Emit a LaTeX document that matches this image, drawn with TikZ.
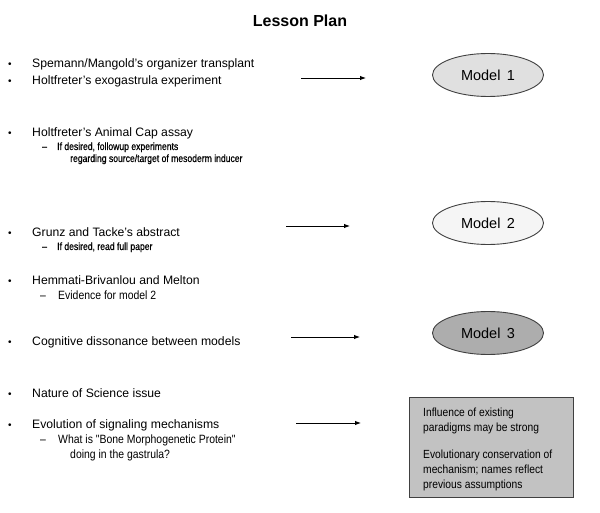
\documentclass[tikz,border=0pt]{standalone}
\usepackage{fontspec}
\setmainfont{Liberation Sans}
\newfontfamily\narrowfont[FakeStretch=0.87]{Liberation Sans}
\newfontfamily\smallfont[FakeStretch=0.82,FakeBold=0.6]{Liberation Sans}
\usetikzlibrary{arrows.meta,shapes.geometric}
\begin{document}
\begin{tikzpicture}[x=1pt,y=-1pt,
  txt/.style={anchor=base west,inner sep=0pt,font=\fontsize{12.2}{14}\selectfont},
  bul/.style={anchor=base west,inner sep=0pt,font=\fontsize{10}{12}\selectfont},
  sub/.style={anchor=base west,inner sep=0pt,font=\smallfont\fontsize{10.5}{12}\selectfont},
  subb/.style={anchor=base west,inner sep=0pt,font=\narrowfont\fontsize{12}{14}\selectfont},
  arr/.style={-{Latex[length=6pt,width=4.5pt]},line width=0.9pt},
  model/.style={ellipse,draw=black!75,line width=0.9pt,minimum width=111pt,minimum height=43pt,inner sep=0pt,font=\fontsize{14.5}{16}\selectfont},
  boxtxt/.style={anchor=base west,inner sep=0pt,font=\narrowfont\fontsize{11.8}{13}\selectfont}
]
\useasboundingbox (0,0) rectangle (600,513);
\node[anchor=base,inner sep=0pt,font=\bfseries\fontsize{16}{18}\selectfont] (title) at (300,27) {Lesson Plan};

\node[bul] (b1) at (8,68) {•};
\node[txt] (t1) at (32,68) {Spemann/Mangold's organizer transplant};
\node[bul] (b2) at (8,85) {•};
\node[txt] (t2) at (32,85) {Holtfreter's exogastrula experiment};
\node[bul] (b3) at (8,137) {•};
\node[txt] (t3) at (32,137) {Holtfreter's Animal Cap assay};
\node[sub] (d3) at (42,150) {–};
\node[sub] (s3a) at (57,150) {If desired, followup experiments};
\node[sub] (s3b) at (70,162) {regarding source/target of mesoderm inducer};

\node[bul] (b4) at (8,237) {•};
\node[txt] (t4) at (32,237) {Grunz and Tacke's abstract};
\node[sub] (d4) at (42,250) {–};
\node[sub] (s4) at (57,250) {If desired, read full paper};
\node[bul] (b5) at (8,284) {•};
\node[txt] (t5) at (32,284) {Hemmati-Brivanlou and Melton};
\node[subb] (d5) at (40,299) {–};
\node[subb] (s5) at (58,299) {Evidence for model 2};
\node[bul] (b6) at (8,345) {•};
\node[txt] (t6) at (32,345) {Cognitive dissonance between models};

\node[bul] (b7) at (8,397) {•};
\node[txt] (t7) at (32,397) {Nature of Science issue};
\node[bul] (b8) at (8,428) {•};
\node[txt] (t8) at (32,428) {Evolution of signaling mechanisms};
\node[subb] (d8) at (40,443) {–};
\node[subb] (s8a) at (58,443) {What is "Bone Morphogenetic Protein"};
\node[subb] (s8b) at (70,458) {doing in the gastrula?};

\node[model,fill=black!12] (m1) at (488,75) {Model\, 1};
\node[model,fill=black!4] (m2) at (488,223) {Model\, 2};
\node[model,fill=black!32] (m3) at (488,333) {Model\, 3};
\node[draw=black!75,line width=0.9pt,fill=black!24,minimum width=164pt,minimum height=100pt,inner sep=0pt] (box) at (491,447) {};
\node[boxtxt] (x1) at (423,416) {Influence of existing};
\node[boxtxt] (x2) at (423,431) {paradigms may be strong};
\node[boxtxt] (x3) at (423,458) {Evolutionary conservation of};
\node[boxtxt] (x4) at (423,473) {mechanism; names reflect};
\node[boxtxt] (x5) at (423,488) {previous assumptions};

\coordinate (a1s) at (301,78); \coordinate (a1e) at (366,78);
\coordinate (a2s) at (286,226); \coordinate (a2e) at (350,226);
\coordinate (a3s) at (291,337); \coordinate (a3e) at (360,337);
\coordinate (a4s) at (296,423); \coordinate (a4e) at (361,423);
\draw[arr] (a1s) -- (a1e);
\draw[arr] (a2s) -- (a2e);
\draw[arr] (a3s) -- (a3e);
\draw[arr] (a4s) -- (a4e);
\end{tikzpicture}
\end{document}
